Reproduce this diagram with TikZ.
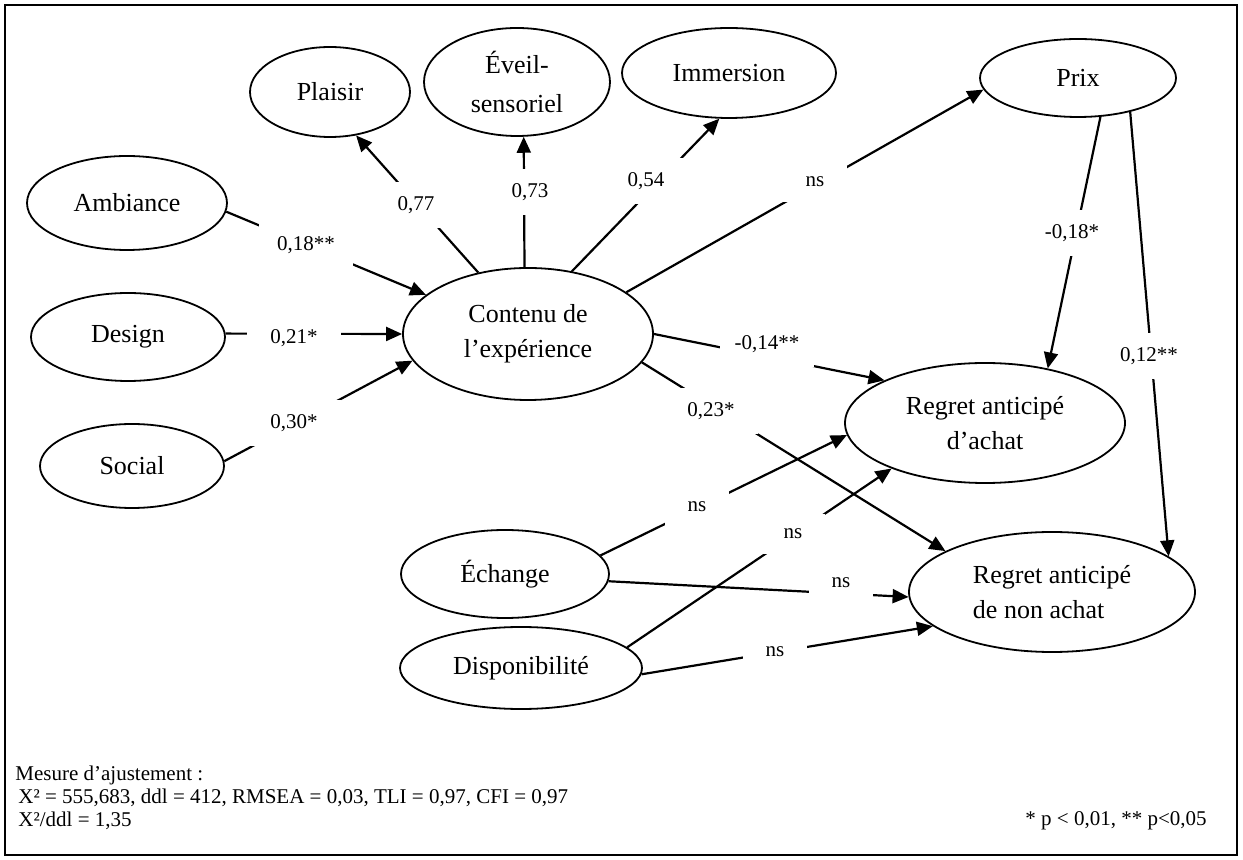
\documentclass[tikz,border=0pt]{standalone}
\usepackage{fontspec}
\setmainfont{Liberation Serif}
\usetikzlibrary{arrows.meta,shapes.geometric}

\begin{document}
\begin{tikzpicture}[x=0.5pt, y=-0.5pt,
    latent/.style={ellipse, draw, line width=0.9pt, inner sep=0pt, align=center,
        font=\fontsize{13}{17.5}\selectfont},
    path/.style={line width=1.1pt, -{Triangle[length=8pt,width=7pt]}},
    coef/.style={fill=white, inner sep=0pt, minimum width=47pt, minimum height=23pt,
        font=\fontsize{10.5}{12}\selectfont},
    nsbox/.style={coef, minimum width=32pt, minimum height=20pt}]

    % Draw the frame
    \useasboundingbox (0,0) rectangle (1243,860);
    \draw[line width=1pt] (5,5) rectangle (1237,855);

    % Draw the dimensions of the experience
    \node[latent, minimum width=80pt, minimum height=45pt] (plaisir) at (330,92) {Plaisir};
    \node[latent, minimum width=93pt, minimum height=54pt, font=\fontsize{13}{19.5}\selectfont] (eveil) at (517,82) {Éveil-\\sensoriel};
    \node[latent, minimum width=107pt, minimum height=45pt] (immersion) at (729,73) {Immersion};
    \node[latent, minimum width=98pt, minimum height=39pt] (prix) at (1078,78) {Prix};

    % Draw the antecedents
    \node[latent, minimum width=100pt, minimum height=47pt] (ambiance) at (127,203) {Ambiance};
    \node[latent, minimum width=97pt, minimum height=44pt] (design) at (128,337) {Design};
    \node[latent, minimum width=92pt, minimum height=42pt] (social) at (132,466) {Social};
    \node[latent, minimum width=125pt, minimum height=66pt] (contenu) at (528,334) {Contenu de\\l’expérience};

    % Draw the anticipated regrets
    \node[latent, minimum width=140pt, minimum height=60pt] (regreta) at (985,423) {Regret anticipé\\d’achat};
    \node[latent, minimum width=143pt, minimum height=60pt, align=left] (regretn) at (1052,592) {Regret anticipé\\de non achat};
    \node[latent, minimum width=104pt, minimum height=44pt] (echange) at (505,574) {Échange};
    \node[latent, minimum width=121pt, minimum height=41pt] (dispo) at (521,668) {Disponibilité};

    % Draw the paths
    \draw[path] (contenu.129.6) -- (plaisir.-59);
    \draw[path] (contenu.93.5) -- (eveil.-83);
    \draw[path] (contenu.55.3) -- (immersion.-102.5);
    \draw[path] (contenu.23.1) -- (prix.-173);
    \draw[path] (ambiance.-5.7) -- (contenu.159.8);
    \draw[path] (design.2.4) -- (contenu.180);
    \draw[path] (social.3.7) -- (contenu.-167.2);
    \draw[path] (contenu.0.5) -- (regreta.157.9);
    \draw[path] (contenu.-14.2) -- (regretn.159.3);
    \draw[path] (prix.-60.6) -- (regreta.41.5);
    \draw[path] (prix.-33.7) -- (regretn.17.5);
    \draw[path] (echange.11.5) -- (regreta.-175.9);
    \draw[path] (dispo.11.1) -- (regreta.-154.5);
    \draw[path] (echange.-4.4) -- (regretn.-178);
    \draw[path] (dispo.-3.3) -- (regretn.-164);

    % Draw the coefficients over the paths
    \node[coef] (c077) at (416,205) {0,77};
    \node[coef] (c073) at (530,192) {0,73};
    \node[coef] (c054) at (646,181) {0,54};
    \node[nsbox] (cprix) at (815,182) {ns};
    \node[coef] (c018) at (306,245) {0,18**};
    \node[coef] (c021) at (294,338) {0,21*};
    \node[coef] (c030) at (294,423) {0,30*};
    \node[coef] (c014) at (767,344) {-0,14**};
    \node[coef] (c023) at (711,411) {0,23*};
    \node[coef] (cm018) at (1072,233) {-0,18*};
    \node[coef] (c012) at (1149,356) {0,12**};
    \node[nsbox] (cea) at (697,507) {ns};
    \node[nsbox] (cda) at (793,534) {ns};
    \node[nsbox] (cen) at (841,583) {ns};
    \node[nsbox] (cdn) at (775,652) {ns};

    % Finally the fit measures
    \node[anchor=north west, align=left, inner sep=0pt, font=\fontsize{10.5}{11.5}\selectfont] (fit) at (15,766)
        {Mesure d’ajustement :\\\hspace*{1.5pt}X² = 555,683, ddl = 412, RMSEA = 0,03, TLI = 0,97, CFI = 0,97\\\hspace*{1.5pt}X²/ddl = 1,35};
    \node[anchor=base west, inner sep=0pt, font=\fontsize{10.5}{11.5}\selectfont] (pval) at (1025,826) {* p < 0,01, ** p<0,05};

\end{tikzpicture}
\end{document}
